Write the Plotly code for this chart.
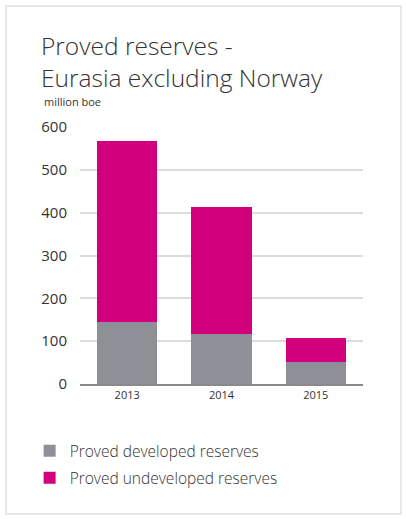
import plotly.graph_objects as go

years = ["2013", "2014", "2015"]
developed = [145, 117, 52]
undeveloped = [423, 296, 56]
series_names = ["Proved developed reserves", "Proved undeveloped reserves"]
y_ticks = [0, 100, 200, 300, 400, 500, 600]

GRAY = "#8f8f97"
MAGENTA = "#d2007c"
TEXT = "#333333"

fig = go.Figure()
fig.add_trace(go.Bar(x=years, y=developed, name=series_names[0], marker_color=GRAY,
                     marker_line_width=0, legendgroup="a"))
fig.add_trace(go.Bar(x=years, y=undeveloped, name=series_names[1], marker_color=MAGENTA,
                     marker_line_width=0, legendgroup="b"))

fig.update_layout(
    width=406, height=519,
    margin=dict(l=80, r=43, t=127, b=135),
    paper_bgcolor="white", plot_bgcolor="white",
    barmode="stack", bargap=0.357,
    font=dict(family="Open Sans", color=TEXT),
    title=dict(text="Proved reserves -<br>Eurasia excluding Norway",
               font=dict(family="Open Sans", size=24.5, color=TEXT, weight=300),
               x=41/406, xanchor="left", xref="container",
               y=1-55/519, yanchor="top", yref="container"),
    showlegend=True,
    legend=dict(x=-0.178, xanchor="left", y=-0.195, yanchor="top",
                traceorder="grouped", font=dict(size=15.5, color=TEXT, weight=300),
                tracegroupgap=4, itemclick=False),
    xaxis=dict(showgrid=False, showline=True, linecolor="#8a8a8a", linewidth=2,
               tickfont=dict(size=11, color=TEXT), ticks="", range=[-0.5, 2.5]),
    yaxis=dict(range=[0, 600], tickvals=y_ticks, showgrid=True, gridcolor="#dcdcdc",
               gridwidth=1.5, zeroline=False, showline=False,
               tickfont=dict(size=15, color=TEXT), ticklabelstandoff=12),
    shapes=[dict(type="rect", xref="paper", yref="paper",
                 x0=(6-80)/283, x1=(401-80)/283, y0=(384-514)/257, y1=(384-6)/257,
                 line=dict(color="#e8e8e8", width=2), layer="below")],
    annotations=[dict(text="million boe", xref="paper", yref="paper",
                      x=(42-80)/283, y=(384-102)/257, xanchor="left", yanchor="middle",
                      showarrow=False, font=dict(size=11, color=TEXT))],
)

fig.write_html("out.html", config={"displayModeBar": False},
               post_script="document.body.style.margin='0';")
